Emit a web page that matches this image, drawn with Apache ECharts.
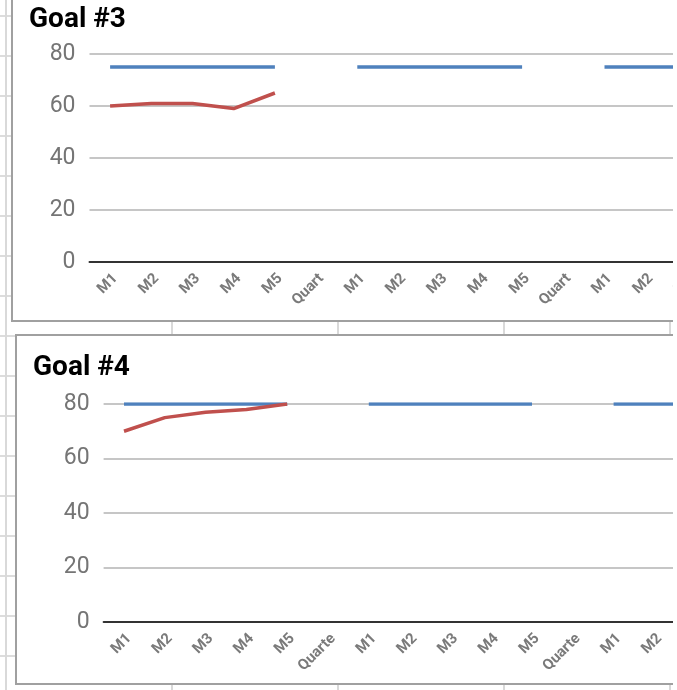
<!DOCTYPE html>
<html>
<head>
<meta charset="utf-8">
<script src="https://cdn.jsdelivr.net/npm/echarts@6/dist/echarts.min.js"></script>
<style>
  html, body { margin: 0; padding: 0; }
  body { width: 677px; height: 690px; overflow: hidden; position: relative; background: #fff; }
  /* spreadsheet cell grid behind the charts */
  #sheet {
    position: absolute; left: 0; top: 0; width: 673px; height: 690px;
    background-image:
      repeating-linear-gradient(to right, transparent 0 5px, #d9d9d9 5px 7px, transparent 7px 166px),
      repeating-linear-gradient(to bottom, transparent 0 15px, #dcdcdc 15px 17px, transparent 17px 40px);
  }
  .frame {
    position: absolute; background: #fff; overflow: hidden; box-sizing: border-box;
    border: 2px solid #a0a0a0; border-right: none;
  }
  #frame3 { left: 11px; top: -30px; width: 662px; height: 352px; }
  #frame4 { left: 15px; top: 334px; width: 658px; height: 351px; }
  .chart { position: absolute; left: 0; top: 0; width: 900px; }
  #goal3 { height: 348px; }
  #goal4 { height: 347px; }
</style>
</head>
<body>
<div id="sheet"></div>
<div class="frame" id="frame3"><div class="chart" id="goal3"></div></div>
<div class="frame" id="frame4"><div class="chart" id="goal4"></div></div>
<script>
// Category labels (monthly checkpoints, then a quarter column, repeated)
const months3 = ['M1', 'M2', 'M3', 'M4', 'M5', 'Quart', 'M1', 'M2', 'M3', 'M4', 'M5', 'Quart', 'M1', 'M2', 'M3', 'M4', 'M5', 'Quart'];
const months4 = ['M1', 'M2', 'M3', 'M4', 'M5', 'Quarte', 'M1', 'M2', 'M3', 'M4', 'M5', 'Quarte', 'M1', 'M2', 'M3', 'M4', 'M5', 'Quarte'];

// Goal #3
const target3 = [75, 75, 75, 75, 75, null, 75, 75, 75, 75, 75, null, 75, 75, 75, 75, 75, null];
const actual3 = [60, 61, 61, 59, 65, null, null, null, null, null, null, null, null, null, null, null, null, null];

// Goal #4
const target4 = [80, 80, 80, 80, 80, null, 80, 80, 80, 80, 80, null, 80, 80, 80, 80, 80, null];
const actual4 = [70, 75, 77, 78, 80, null, null, null, null, null, null, null, null, null, null, null, null, null];

// Value axis ticks
const yTicks = { min: 0, max: 80, step: 20 };

const BLUE = '#4F81BD';
const RED = '#C0504D';

function goalOption(title, titleTop, grid, cats, target, actual, yMargin) {
  return {
    animation: false,
    title: {
      text: title, left: 11, top: titleTop, padding: 5,
      textStyle: { fontFamily: 'Roboto', fontWeight: 'bold', fontSize: 28, color: '#000' }
    },
    grid: grid,
    xAxis: {
      type: 'category', data: cats, boundaryGap: true,
      axisLine: { lineStyle: { color: '#333', width: 2 } },
      axisTick: { show: false },
      axisLabel: {
        interval: 0, rotate: 45, margin: 9,
        fontFamily: 'Roboto', fontWeight: 'bold', fontSize: 15, color: '#7a7a7a',
        align: 'right', verticalAlign: 'top'
      },
      splitLine: { show: false }
    },
    yAxis: {
      type: 'value', min: yTicks.min, max: yTicks.max, interval: yTicks.step,
      axisLine: { show: false }, axisTick: { show: false },
      axisLabel: { fontFamily: 'Roboto', fontSize: 23, color: '#757575', margin: yMargin },
      splitLine: { lineStyle: { color: '#b3b3b3', width: 1.5 } }
    },
    series: [
      { name: 'Target', type: 'line', data: target, symbol: 'none', connectNulls: false,
        lineStyle: { color: BLUE, width: 3.5 }, itemStyle: { color: BLUE } },
      { name: 'Actual', type: 'line', data: actual, symbol: 'none', connectNulls: false,
        lineStyle: { color: RED, width: 3.5 }, itemStyle: { color: RED } }
    ]
  };
}

const c3 = echarts.init(document.getElementById('goal3'), null, { renderer: 'canvas' });
c3.setOption(goalOption('Goal #3', 29,
  { left: 76.5, top: 82, width: 41.2 * months3.length, height: 208 },
  months3, target3, actual3, 14));

const c4 = echarts.init(document.getElementById('goal4'), null, { renderer: 'canvas' });
c4.setOption(goalOption('Goal #4', 13,
  { left: 86.6, top: 68, width: 40.8 * months4.length, height: 218 },
  months4, target4, actual4, 14));
</script>
</body>
</html>
